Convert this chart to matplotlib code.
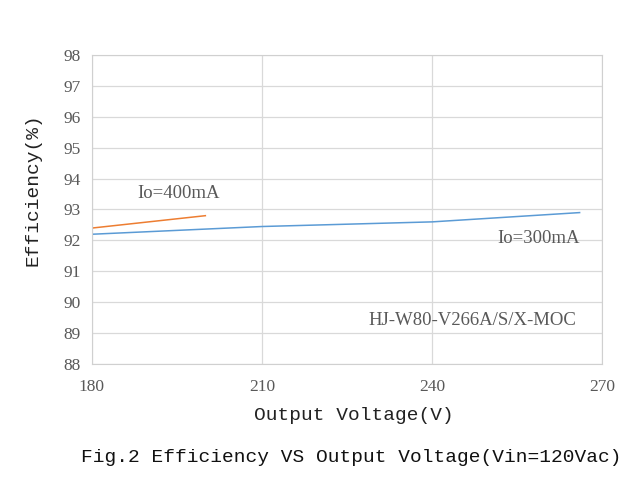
import matplotlib.pyplot as plt

# output voltage (V) vs efficiency (%) for two load currents
volt_300 = [180, 210, 240, 266]
eff_300 = [92.2, 92.45, 92.6, 92.9]
volt_400 = [180, 200]
eff_400 = [92.4, 92.8]

x_ticks = [180, 210, 240, 270]
y_ticks = list(range(88, 99))

grey = "#595959"
serif = "Liberation Serif"
mono = "Liberation Mono"

fig = plt.figure(figsize=(6.34, 5.03), dpi=100)
ax = fig.add_axes([0.145, 0.276, 0.805, 0.615])

ax.plot(volt_300, eff_300, color="#5b9bd5", lw=1.1)
ax.plot(volt_400, eff_400, color="#ed7d31", lw=1.1)

ax.set_xlim(180, 270)
ax.set_ylim(88, 98)
ax.set_xticks(x_ticks)
ax.set_yticks(y_ticks)
ax.grid(True, color="#d9d9d9", lw=0.9)
ax.set_axisbelow(True)
for s in ax.spines.values():
    s.set_color("#d0d0d0")
ax.tick_params(length=0, labelsize=12.5, labelcolor=grey)
ax.tick_params(axis="y", pad=8)
ax.tick_params(axis="x", pad=11)
for lab in ax.get_xticklabels() + ax.get_yticklabels():
    lab.set_family(serif)

ax.set_xlabel("Output Voltage(V)", family=mono, fontsize=14, color="#222222", va="center")
ax.xaxis.set_label_coords(0.514, -0.165)
ax.set_ylabel("Efficiency(%)", family=mono, fontsize=14, color="#222222", va="center")
ax.yaxis.set_label_coords(-0.116, 0.563)

ax.text(195.3, 93.53, "Io=400mA", family=serif, fontsize=13.5, color=grey,
        ha="center", va="center")
ax.text(266, 92.05, "Io=300mA", family=serif, fontsize=13.5, color=grey,
        ha="right", va="center")
ax.text(265.5, 89.42, "HJ-W80-V266A/S/X-MOC", family=serif, fontsize=13.5, color=grey,
        ha="right", va="center")

fig.text(0.554, 0.0895, "Fig.2 Efficiency VS Output Voltage(Vin=120Vac)",
         family=mono, fontsize=14, color="#111111", ha="center", va="center")

fig.savefig("out.png", dpi=100)
